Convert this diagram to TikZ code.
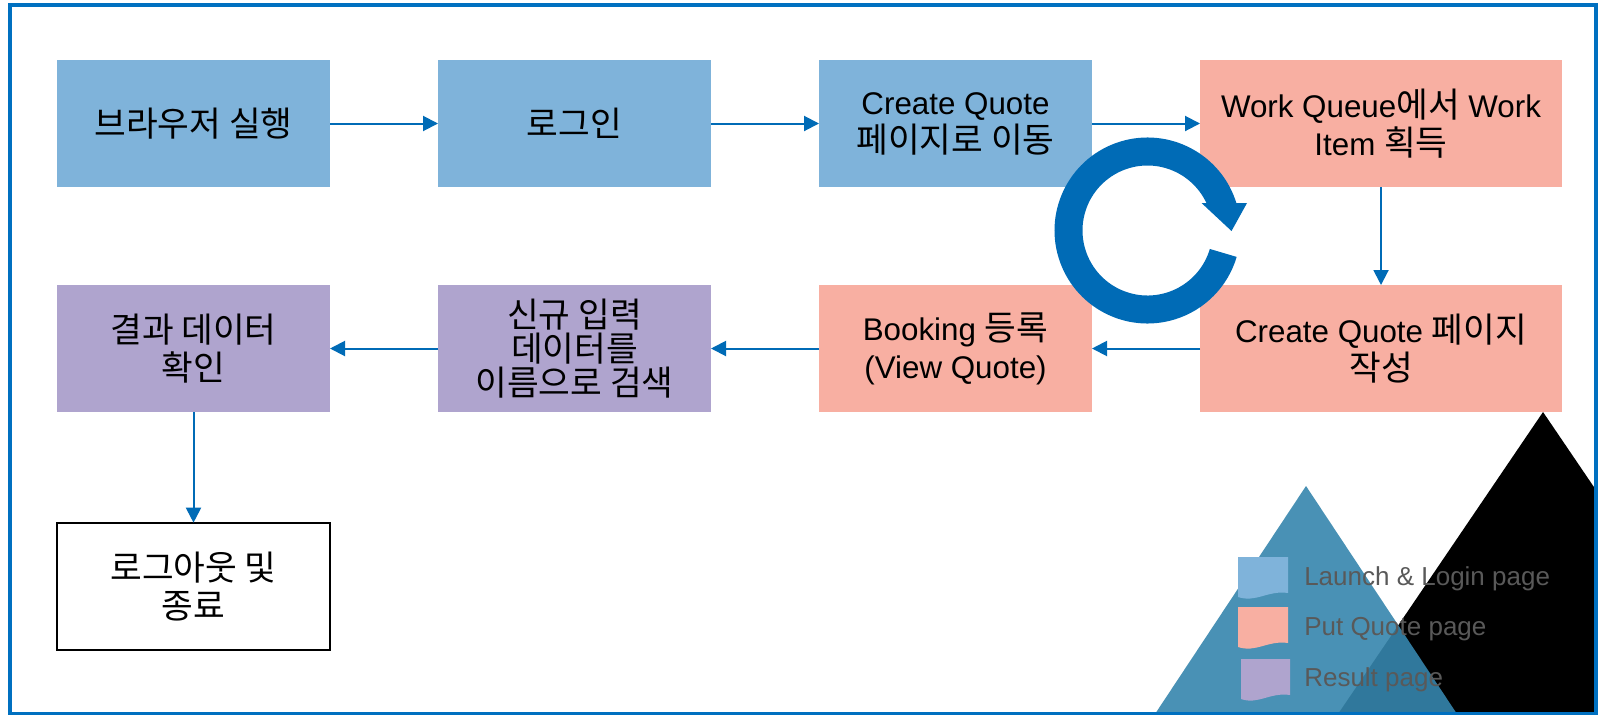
\documentclass[tikz,border=0pt]{standalone}
\usepackage{fontspec}
\setmainfont{Liberation Sans}
\newfontfamily\kr[Scale=1.1]{Noto Sans CJK KR}
\usetikzlibrary{arrows.meta,positioning}
\definecolor{launchblue}{HTML}{7FB3DA}
\definecolor{quotesalmon}{HTML}{F8AFA2}
\definecolor{resultviolet}{HTML}{AFA4CE}
\definecolor{flowblue}{HTML}{006BB6}
\definecolor{frameblue}{HTML}{0070C0}
\definecolor{hillblue}{HTML}{3686AD}
\definecolor{legendgray}{HTML}{595959}
\tikzset{
    raw step box/.style={rectangle, outer sep=0pt, inner sep=2pt, align=center, minimum width=204.75pt, minimum height=95.25pt, font=\fontsize{23.5}{28.5}\selectfont},
    launch box/.style={raw step box, fill=launchblue},
    quote box/.style={raw step box, fill=quotesalmon},
    wide quote box/.style={quote box, minimum width=271.5pt},
    result box/.style={raw step box, fill=resultviolet},
    end box/.style={raw step box, draw=black, line width=1.5pt, fill=white},
    flow/.style={->, flowblue, line width=1.5pt},
    legend entry/.style={anchor=base west, inner sep=0pt, text=legendgray, font=\fontsize{19.5}{23}\selectfont}
}

\begin{document}
\begin{tikzpicture}[x=0.75pt, y=-0.75pt, >={Triangle[length=11.25pt, width=11.25pt]}]
	\fill[white] (0,0) rectangle (1601,714);
	\useasboundingbox (0,0) rectangle (1601,714);
	% hills behind the legend
	\begin{scope}
		\clip (0,0) rectangle (1596,714);
		\fill[black] (1543,412) -- (1338,714) -- (1748,714) -- cycle;
		\fill[hillblue, opacity=0.9] (1306,486) -- (1155,714) -- (1457,714) -- cycle;
	\end{scope}
	% steps
	\node[launch box] (browser) at (193.5,123.5) {{\kr 브라우저 실행}};
	\node[launch box, right=81pt of browser] (login) {{\kr 로그인}};
	\node[launch box, right=81pt of login] (move) {Create Quote\\{\kr 페이지로 이동}};
	\node[wide quote box, right=81pt of move] (workitem) {Work Queue{\kr 에서} Work\\Item {\kr 획득}};
	\node[wide quote box, below=73.5pt of workitem] (write) {Create Quote {\kr 페이지}\\{\kr 작성}};
	\node[quote box, left=81pt of write] (booking) {Booking {\kr 등록}\\(View Quote)};
	\node[result box, left=81pt of booking, font=\fontsize{23.5}{25.5}\selectfont] (search) {{\kr 신규 입력}\\{\kr 데이터를}\\{\kr 이름으로 검색}};
	\node[result box, left=81pt of search] (check) {{\kr 결과 데이터}\\{\kr 확인}};
	\node[end box, below=83pt of check] (logout) {{\kr 로그아웃 및}\\{\kr 종료}};
	% flow
	\draw[flow] (browser) -- (login);
	\draw[flow] (login) -- (move);
	\draw[flow] (move) -- (workitem);
	\draw[flow] (workitem) -- (write);
	\draw[flow] (write) -- (booking);
	\draw[flow] (booking) -- (search);
	\draw[flow] (search) -- (check);
	\draw[flow] (check) -- (logout);
	% loop mark
	\begin{scope}[shift={(1147.5,230.5)}, yscale=-1]
		\fill[flowblue] (-16.5:93) -- (-16.5:65) arc[start angle=-16.5, end angle=-335, radius=65]
			-- (54,27.5) -- (84,-0.5) -- (99.5,27.5) -- (17.2:93)
			arc[start angle=-342.8, end angle=-16.5, radius=93] -- cycle;
	\end{scope}
	% legend
	\fill[launchblue] (1238,557) -- (1288,557) -- (1288,593) .. controls (1268,590) and (1256,603) .. (1238,597) -- cycle;
	\fill[quotesalmon] (1238,607) -- (1288,607) -- (1288,643) .. controls (1268,640) and (1256,653) .. (1238,647) -- cycle;
	\fill[resultviolet] (1241,659) -- (1290,659) -- (1290,695) .. controls (1270,692) and (1258,705) .. (1241,699) -- cycle;
	\node[legend entry] (launchkey) at (1304,585) {Launch \& Login page};
	\node[legend entry] (quotekey) at (1304,635) {Put Quote page};
	\node[legend entry] (resultkey) at (1304,686.7) {Result page};
	% frame
	\draw[frameblue, line width=3pt] (10.3,5) rectangle (1595.7,714);
\end{tikzpicture}
\end{document}
